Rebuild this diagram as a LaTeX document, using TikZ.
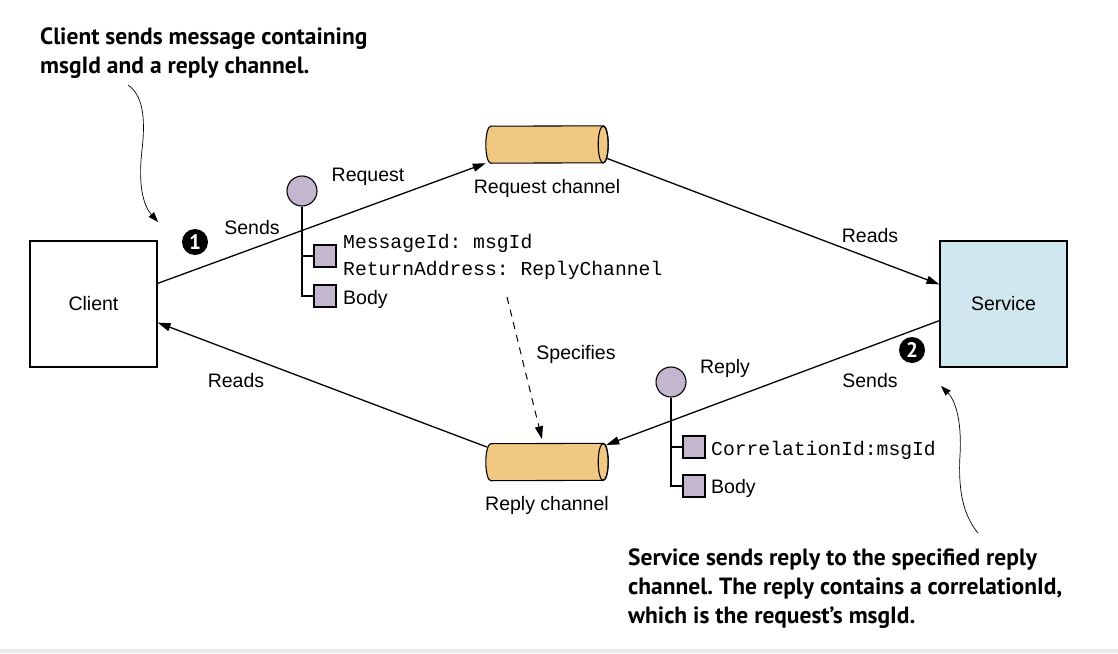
\documentclass[tikz,border=0pt]{standalone}
\usepackage{fontspec}
\setmainfont{Liberation Sans}
\setmonofont{Liberation Mono}
\newfontfamily\annfont{PT Sans}
\usetikzlibrary{arrows.meta,shapes.geometric,calc}
\definecolor{chanfill}{HTML}{F0C882}
\definecolor{msgfill}{HTML}{C4B6CF}
\definecolor{svcfill}{HTML}{D1E7F0}
\begin{document}
\begin{tikzpicture}[x=1pt,y=-1pt,
  lbl/.style={font=\fontsize{19.5}{23}\selectfont, inner sep=0, anchor=base},
  mono/.style={font=\fontsize{19.7}{23}\ttfamily, inner sep=0, anchor=base west},
  box/.style={draw, line width=1.2pt, minimum width=127pt, minimum height=126pt, inner sep=0, font=\fontsize{19.5}{23}\selectfont},
  chan/.style={rectangle, minimum width=122pt, minimum height=37pt, inner sep=0},
  chanline/.style={draw, line width=1.1pt},
  msg/.style={circle, draw, fill=msgfill, line width=1.1pt, minimum size=30pt, inner sep=0},
  part/.style={draw, fill=msgfill, line width=1.1pt, minimum size=22pt, inner sep=0},
  tree/.style={line width=1.2pt},
  flow/.style={line width=1.3pt, -{Triangle[length=13pt,width=8pt]}},
  note/.style={line width=0.7pt, -{Triangle[length=10pt,width=7pt]}},
  badge/.style={circle, fill=black, minimum size=26pt, inner sep=0, text=white, font=\fontsize{21}{21}\annfont\bfseries},
  ann/.style={font=\fontsize{23.5}{29}\annfont\bfseries\frenchspacing, align=left, inner sep=0, anchor=base west}
]
\useasboundingbox (0,0) rectangle (1118,653);
\fill[white] (0,0) rectangle (1118,653);
\fill[black!8] (0,649) rectangle (1118,653);

% main nodes
\node[box] (client) at (93.5,304) {Client};
\node[box, fill=svcfill] (service) at (1003.5,304) {Service};
\node[chan] (reqch) at (547,144.5) {};
\node[chan] (replych) at (547,462) {};
\foreach \c in {reqch,replych} {
  \draw[chanline, fill=chanfill] ($(\c.south west)+(5pt,0pt)$)
    arc[start angle=270, end angle=90, x radius=5pt, y radius=18.5pt]
    -- ($(\c.north east)+(-5pt,0pt)$)
    arc[start angle=90, end angle=-90, x radius=5pt, y radius=18.5pt] -- cycle;
  \draw[chanline] ($(\c.east)+(-5pt,0pt)$) ellipse[x radius=5pt, y radius=18.5pt];
}
\node[lbl] (reqlbl) at (547,193) {Request channel};
\node[lbl] (replbl) at (547,510) {Reply channel};

% flows
\draw[flow] ($(client.north east)+(0pt,-43pt)$) -- (reqch.south west);
\draw[flow] ($(reqch.east)+(-1pt,-14pt)$) -- ($(service.north west)+(0pt,-44pt)$);
\draw[flow] ($(service.south west)+(0pt,47pt)$) -- ($(replych.east)+(-2pt,17pt)$);
\draw[flow] ($(replych.west)+(1pt,15pt)$) -- ($(client.south east)+(0pt,45pt)$);
\coordinate (specstart) at (507,297);
\draw[flow, line width=1pt, dash pattern=on 7pt off 6pt] (specstart) -- ($(replych.north)+(-5pt,4pt)$);

% flow labels
\node[lbl] (sends1) at (252,234) {Sends};
\node[lbl] (reqtxt) at (368,181) {Request};
\node[lbl] (reads1) at (870,242) {Reads};
\node[lbl] (reads2) at (236,387) {Reads};
\node[lbl] (spec) at (576,359) {Specifies};
\node[lbl] (reptxt) at (725,373) {Reply};
\node[lbl] (sends2) at (870,387) {Sends};

% badges
\node[badge] (b1) at (195,242) {1};
\node[badge] (b2) at (912,350) {2};

% request message
\node[msg] (reqmsg) at (302,191) {};
\node[part] (rq1) at (325,256) {};
\node[part] (rq2) at (325,296) {};
\draw[tree] (reqmsg.south) |- (rq2.west);
\draw[tree] (reqmsg.south |- rq1.west) -- (rq1.west);
\node[mono] (rqt1) at (343,248) {MessageId: msgId};
\node[mono] (rqt2) at (343,275) {ReturnAddress: ReplyChannel};
\node[lbl, anchor=base west] (rqt3) at (343,304) {Body};

% reply message
\node[msg] (repmsg) at (671,382) {};
\node[part] (rp1) at (694,447) {};
\node[part] (rp2) at (694,486) {};
\draw[tree] (repmsg.south) |- (rp2.west);
\draw[tree] (repmsg.south |- rp1.west) -- (rp1.west);
\node[mono] (rpt1) at (711,455) {CorrelationId:msgId};
\node[lbl, anchor=base west] (rpt2) at (711,493) {Body};

% annotations
\node[ann] (note1) at (40,73) {Client sends message containing\\msgId and a reply channel.};
\node[ann] (note2) at (628,623) {Service sends reply to the specified reply\\channel. The reply contains a correlationId,\\which is the request’s msgId.};
\coordinate (n1s) at (128,85);
\coordinate (n1e) at (158,222);
\draw[note] (n1s) .. controls (142,95) and (146,115) .. (142,150) .. controls (138,185) and (143,205) .. (n1e);
\coordinate (n2s) at (978,533);
\coordinate (n2e) at (941,386);
\draw[note] (n2s) .. controls (963,515) and (958,490) .. (960,455) .. controls (962,420) and (955,400) .. (n2e);
\end{tikzpicture}
\end{document}
